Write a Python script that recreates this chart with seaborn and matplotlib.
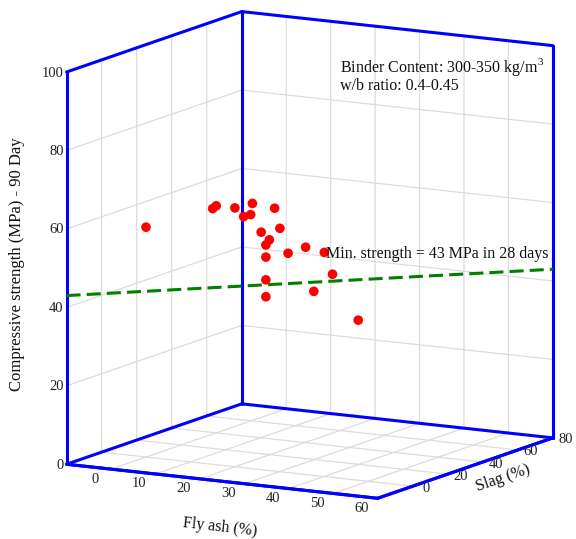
import matplotlib
matplotlib.use("Agg")
import matplotlib.pyplot as plt
import numpy as np
import pandas as pd
import seaborn as sns

# Mix proportions (% of binder) and 90-day compressive strength (MPa)
fly_ash = [0, 15, 15, 20, 20, 20, 20, 25, 20, 25, 25, 25, 25, 25, 25, 30, 30, 35, 40, 35, 45]
slag = [0, 0, 2, 0, 10, 5, 9, 10, 15, 13, 7, 5, 5, 5, 5, 5, 15, 13, 5, 7, 7]
strength_90d = [58.6, 65.2, 65.6, 66.0, 65.6, 63.0, 62.9, 65.0, 57.5, 59.4, 57.4,
                56.4, 53.3, 47.5, 43.2, 54.9, 54.9, 54.5, 50.8, 45.5, 39.4]

min_strength_28d = 43

fly_range = (-10, 60)
slag_range = (-20, 80)
z_range = (0, 100)
fly_ticks = [0, 10, 20, 30, 40, 50, 60]
slag_ticks = [0, 20, 40, 60, 80]
z_ticks = [0, 20, 40, 60, 80, 100]

df = pd.DataFrame({"fly": fly_ash, "slag": slag, "strength": strength_90d})

sns.set_theme(style="white")
plt.rcParams["font.family"] = ["Liberation Serif", "DejaVu Serif"]
plt.rcParams["mathtext.fontset"] = "custom"
plt.rcParams["mathtext.rm"] = "Liberation Serif"

fig = plt.figure(figsize=(5.76, 5.39), dpi=100)
ax = fig.add_axes([0.025, 0.0135, 1, 1], projection="3d", proj_type="ortho")
ax.computed_zorder = False
ax.view_init(elev=11.2, azim=-60.6)
ax.set_box_aspect((1, 1, 1.12), zoom=1.16)
ax.set_xlim(*fly_range)
ax.set_ylim(*slag_range)
ax.set_zlim(*z_range)
ax.set_xticks(fly_ticks)
ax.set_yticks(slag_ticks)
ax.set_zticks(z_ticks)

box_blue = "#0000ff"
for axis in (ax.xaxis, ax.yaxis, ax.zaxis):
    axis.set_pane_color((1, 1, 1, 1))
    axis.pane.set_edgecolor((1, 1, 1, 0))
    axis._axinfo["grid"].update(color="#dcdcdc", linewidth=0.9)
    axis._axinfo["tick"]["inward_factor"] = 0.0
    axis._axinfo["tick"]["outward_factor"] = 0.0
    axis.line.set_color(box_blue)
    axis.line.set_linewidth(2.2)
    # Tick labels are placed below next to the projected tick positions
    for tick in axis.get_major_ticks():
        tick.label1.set_visible(False)
        tick.label2.set_visible(False)
    axis.offsetText.set_visible(False)
    axis.label.set_visible(False)

x0, x1 = fly_range
y0, y1 = slag_range
z0, z1 = z_range

# Box frame edges
frame = [
    ((x0, x1), (y0, y0), (z0, z0)),
    ((x1, x1), (y0, y1), (z0, z0)),
    ((x0, x1), (y1, y1), (z0, z0)),
    ((x0, x0), (y0, y1), (z0, z0)),
    ((x0, x0), (y0, y0), (z0, z1)),
    ((x0, x0), (y1, y1), (z0, z1)),
    ((x1, x1), (y1, y1), (z0, z1)),
    ((x0, x0), (y0, y1), (z1, z1)),
    ((x0, x1), (y1, y1), (z1, z1)),
]
for xs, ys, zs in frame:
    ax.plot(xs, ys, zs, color=box_blue, lw=2.2, zorder=2, solid_capstyle="round")

# Minimum 28-day strength threshold across the mix space
ax.plot(fly_range, slag_range, [min_strength_28d, min_strength_28d],
        color="green", lw=2.2, ls=(0, (4.6, 2.0)), zorder=3)

ax.scatter(df["fly"], df["slag"], df["strength"], color="#ff0000", s=48,
           depthshade=False, edgecolors="none", zorder=5)

# Resolve the 3D projection, then label ticks at their projected positions
fig.canvas.draw()
M = ax.get_proj()


def tick_label(x, y, z, text, dx, dy, ha):
    v = M @ np.array([x, y, z, 1.0])
    px, py = v[0] / v[3], v[1] / v[3]
    ax.annotate(text, xy=(px, py), xycoords="data",
                xytext=(dx * 0.72, -dy * 0.72), textcoords="offset points",
                ha=ha, va="center", fontsize=10.5, color="#222222",
                annotation_clip=False)


for f in fly_ticks:
    tick_label(f, y0, z0, str(f), -16, 10, "center")
for s in slag_ticks:
    tick_label(x1, s, z0, str(s), 13, 2, "center")
for z in z_ticks:
    tick_label(x0, y0, z, str(z), -3, 1, "right")

# Axis titles placed beside their edges of the box
title_kw = dict(fontsize=11.5, color="#111111", ha="center", va="center",
                rotation_mode="anchor")
fig.text(220 / 576, 1 - 527 / 539, "Fly ash (%)", rotation=-6.5, **title_kw)
fig.text(503 / 576, 1 - 478 / 539, "Slag (%)", rotation=19, **title_kw)
fig.text(17 / 576, 1 - 264 / 539, "Compressive strength (MPa) - 90 Day",
         rotation=90, fontsize=12, color="#111111", ha="center", va="center",
         rotation_mode="anchor")

fig.text(340 / 576, 1 - 67 / 539, "Binder Content: 300-350 kg/m$^3$", fontsize=11.5,
         va="center", ha="left", color="#111111")
fig.text(340 / 576, 1 - 86 / 539, "w/b ratio: 0.4-0.45", fontsize=11.5,
         va="center", ha="left", color="#111111")
fig.text(326 / 576, 1 - 254 / 539, "Min. strength = 43 MPa in 28 days", fontsize=11.5,
         va="center", ha="left", color="#111111")

fig.savefig("out.png", dpi=100)
